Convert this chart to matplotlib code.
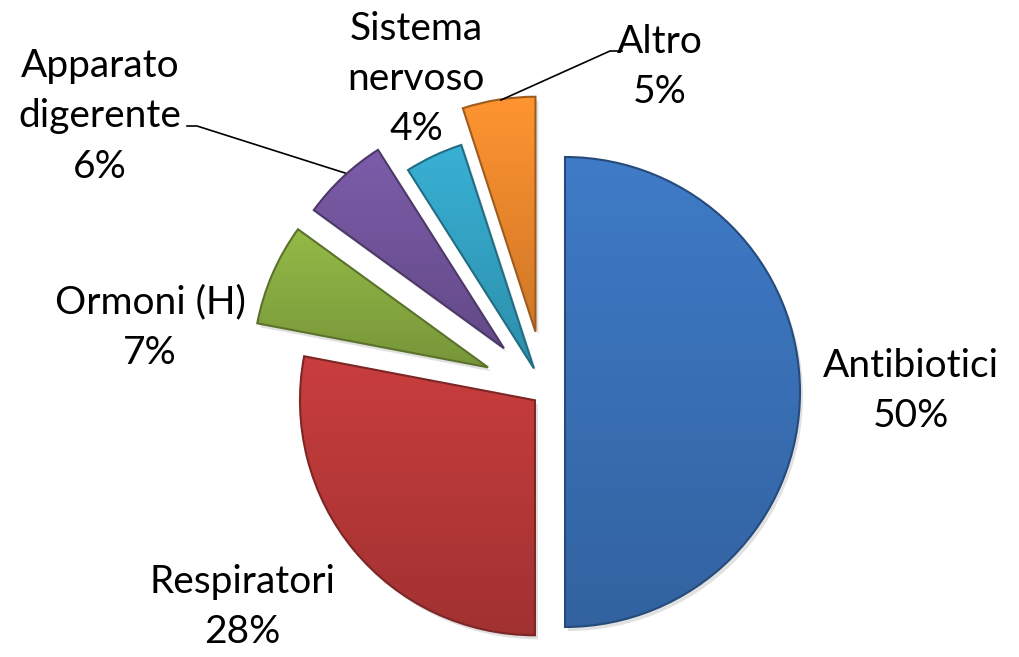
import numpy as np
import matplotlib
matplotlib.use('Agg')
import matplotlib.pyplot as plt
import matplotlib.patches as mpatches
import matplotlib.transforms as mtransforms
from matplotlib.colors import to_rgb

plt.rcParams['font.family'] = ['Lato', 'DejaVu Sans']

# dati
categories = ['Antibiotici', 'Respiratori', 'Ormoni (H)', 'Apparato\ndigerente', 'Sistema\nnervoso', 'Altro']
values = [50, 28, 7, 6, 4, 5]
colors = ['#3b74bc', '#be3a3a', '#8cb043', '#7557a0', '#35a7c9', '#f48c2e']

# layout (pixel, y dal basso)
explode = [20, 13, 62, 60, 26, 61]
label_pos = [(911, 266), (242, 50), (150, 329), (100, 541), (416, 578), (660, 590)]

fig = plt.figure(figsize=(10.19, 6.57), dpi=100)
ax = fig.add_axes([0, 0, 1, 1])

wedges, _ = ax.pie(values, explode=explode, radius=235, center=(545, 265),
                   startangle=90, counterclock=False, colors=colors,
                   wedgeprops=dict(linewidth=0))

ax.set_xlim(0, 1019)
ax.set_ylim(0, 657)
ax.set_aspect('equal')
ax.axis('off')

# ombra + gradiente + bordo scuro (effetto bevel)
for w, c in zip(wedges, colors):
    path = w.get_path()
    rgb = np.array(to_rgb(c))
    sh = mpatches.PathPatch(path, facecolor='#888888', edgecolor='none', alpha=0.25,
                            transform=mtransforms.Affine2D().translate(3, -4) + ax.transData,
                            zorder=0.5)
    ax.add_patch(sh)
    bb = path.get_extents()
    top = np.clip(rgb * 1.06, 0, 1)
    bot = rgb * 0.85
    t = np.linspace(0, 1, 256)[:, None]
    grad = (top[None, :] * (1 - t) + bot[None, :] * t)[:, None, :]
    im = ax.imshow(grad, extent=[bb.x0, bb.x1, bb.y0, bb.y1], aspect='auto',
                   origin='upper', zorder=1.5)
    im.set_clip_path(w)
    ax.add_patch(mpatches.PathPatch(path, fill=False, edgecolor=rgb * 0.65,
                                    linewidth=1.5, zorder=2))

ax.set_xlim(0, 1019)
ax.set_ylim(0, 657)

for cat, val, (x, y) in zip(categories, values, label_pos):
    ax.text(x, y, '%s\n%d%%' % (cat, val), ha='center', va='center',
            fontsize=28, linespacing=1.5, color='black')

# linee guida
ax.plot([187, 197, 345], [531, 531, 484], color='black', lw=1.2, zorder=3)
ax.plot([622, 610, 501], [606, 606, 557], color='black', lw=1.2, zorder=3)

fig.savefig('out.png', dpi=100)
